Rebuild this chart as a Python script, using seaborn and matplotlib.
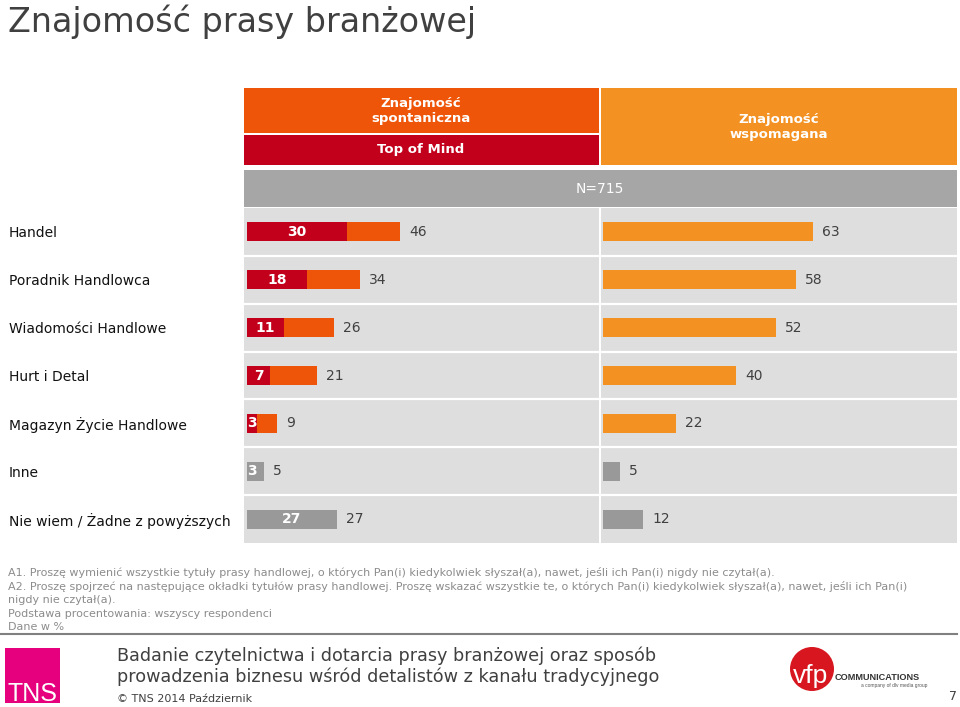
import matplotlib
matplotlib.use("Agg")
import matplotlib.pyplot as plt
from matplotlib.patches import Rectangle, Circle
import seaborn as sns
import pandas as pd

# ---------------- data ----------------
publications = ["Handel", "Poradnik Handlowca", "Wiadomości Handlowe", "Hurt i Detal",
                "Magazyn Życie Handlowe", "Inne", "Nie wiem / Żadne z powyższych"]
top_of_mind = [30, 18, 11, 7, 3, 3, 27]
spontaneous = [46, 34, 26, 21, 9, 5, 27]
aided = [63, 58, 52, 40, 22, 5, 12]

title = "Znajomość prasy branżowej"
header_spont = "Znajomość\nspontaniczna"
header_tom = "Top of Mind"
header_aided = "Znajomość\nwspomagana"
sample_label = "N=715"
footnotes = [
    "A1. Proszę wymienić wszystkie tytuły prasy handlowej, o których Pan(i) kiedykolwiek słyszał(a), nawet, jeśli ich Pan(i) nigdy nie czytał(a).",
    "A2. Proszę spojrzeć na następujące okładki tytułów prasy handlowej. Proszę wskazać wszystkie te, o których Pan(i) kiedykolwiek słyszał(a), nawet, jeśli ich Pan(i)",
    "nigdy nie czytał(a).",
    "Podstawa procentowania: wszyscy respondenci",
    "Dane w %",
]
footer_lines = ["Badanie czytelnictwa i dotarcia prasy branżowej oraz sposób",
                "prowadzenia biznesu wśród detalistów z kanału tradycyjnego"]
footer_copy = "© TNS 2014 Październik"
page_no = "7"

# ---------------- style ----------------
RED = "#c3001b"
ORANGE = "#ef5509"
AIDED = "#f39222"
GRAY = "#999999"
CELL = "#dedede"
TXT = "#404040"

tom_colors = [RED] * 5 + [GRAY] * 2
spont_colors = [ORANGE] * 5 + [GRAY] * 2
aided_colors = [AIDED] * 5 + [GRAY] * 2

plt.rcParams["font.family"] = ["DejaVu Sans"]

W, H = 960, 707
fig = plt.figure(figsize=(W / 100, H / 100), dpi=100)
fig.patch.set_facecolor("white")

# overlay (pixel coordinates) for decoration and text
ov = fig.add_axes([0, 0, 1, 1], zorder=0)
ov.set_xlim(0, W)
ov.set_ylim(H, 0)
ov.axis("off")


def px_axes(x0, y0, x1, y1, **kw):
    return fig.add_axes([x0 / W, 1 - y1 / H, (x1 - x0) / W, (y1 - y0) / H], **kw)


# title
ov.text(8, 22, title, fontsize=24, color=TXT, va="center", ha="left")

# header boxes
ov.add_patch(Rectangle((244, 88), 355, 45, color=ORANGE, lw=0))
ov.add_patch(Rectangle((244, 135), 355, 30, color=RED, lw=0))
ov.add_patch(Rectangle((601, 88), 356, 77, color=AIDED, lw=0))
ov.add_patch(Rectangle((244, 170), 713, 37, color="#a6a6a6", lw=0))
ov.text(421, 111, header_spont, color="white", fontsize=9.5, fontweight="bold",
        ha="center", va="center", linespacing=1.2)
ov.text(421, 150, header_tom, color="white", fontsize=9.5, fontweight="bold",
        ha="center", va="center")
ov.text(779, 127, header_aided, color="white", fontsize=9.5, fontweight="bold",
        ha="center", va="center", linespacing=1.2)
ov.text(600, 189, sample_label, color="white", fontsize=10, ha="center", va="center")

df = pd.DataFrame({"publication": publications, "tom": top_of_mind,
                   "spont": spontaneous, "aided": aided})

UNIT = 3.333  # px per percentage point
axL = px_axes(244, 208, 599, 543, zorder=1)
axR = px_axes(601, 208, 957, 543, zorder=1)

sns.barplot(data=df, x="spont", y="publication", hue="publication", palette=spont_colors,
            legend=False, width=0.4, saturation=1, ax=axL, orient="h")
n_sp = len(axL.containers)
sns.barplot(data=df, x="tom", y="publication", hue="publication", palette=tom_colors,
            legend=False, width=0.4, saturation=1, ax=axL, orient="h")
for i, c in enumerate(axL.containers):
    if i < n_sp:
        axL.bar_label(c, padding=6.5, fontsize=10, color=TXT)
    else:
        axL.bar_label(c, label_type="center", fontsize=10, color="white", fontweight="bold")

sns.barplot(data=df, x="aided", y="publication", hue="publication", palette=aided_colors,
            legend=False, width=0.4, saturation=1, ax=axR, orient="h")
for c in axR.containers:
    axR.bar_label(c, padding=6.5, fontsize=10, color=TXT)

for ax, off, wpx in [(axL, 3, 355), (axR, 2, 356)]:
    ax.set_facecolor(CELL)
    ax.set_xlim(-off / UNIT, (wpx - off) / UNIT)
    ax.set_ylim(len(publications) - 0.5, -0.5)
    for s in ax.spines.values():
        s.set_visible(False)
    ax.set_xticks([])
    ax.set_xlabel("")
    ax.set_ylabel("")
    for k in range(1, len(publications)):
        ax.axhline(k - 0.5, color="white", lw=1.6)

axR.set_yticks([])
axL.tick_params(axis="y", length=0, pad=(244 - 9) * 0.72, labelsize=10, labelcolor="#111111")
for lab in axL.get_yticklabels():
    lab.set_ha("left")

# footnotes
for i, line in enumerate(footnotes):
    ov.text(8, 573 + i * 13.6, line, fontsize=8, color="#8c8c8c", va="center", ha="left")
ov.plot([0, 957], [634, 634], color="#808080", lw=1.5)

# footer
ov.add_patch(Rectangle((5, 648), 55, 55, color="#e6007e", lw=0))
ov.text(8, 701, "TNS", color="white", fontsize=18, family="Liberation Sans",
        ha="left", va="baseline")
ov.text(117, 656, footer_lines[0], fontsize=12.7, color=TXT, va="center", ha="left")
ov.text(117, 677, footer_lines[1], fontsize=12.7, color=TXT, va="center", ha="left")
ov.text(117, 699, footer_copy, fontsize=8, color=TXT, va="center", ha="left")
ov.add_patch(Circle((812, 669), 22, color="#d8161f", lw=0))
ov.text(811, 676, "vfp", color="white", fontsize=19, ha="center", va="center",
        family="Liberation Sans")
ov.text(835, 677, "COMMUNICATIONS", color="#333333", fontsize=6.6, fontweight="bold",
        family="Liberation Sans", ha="left", va="center")
ov.text(927, 686, "a company of dlv media group", color="#555555", fontsize=3.5,
        family="Liberation Sans", ha="right", va="center")
ov.text(953, 697, page_no, color=TXT, fontsize=9, ha="center", va="center")

fig.savefig("out.png", dpi=100, facecolor="white")
